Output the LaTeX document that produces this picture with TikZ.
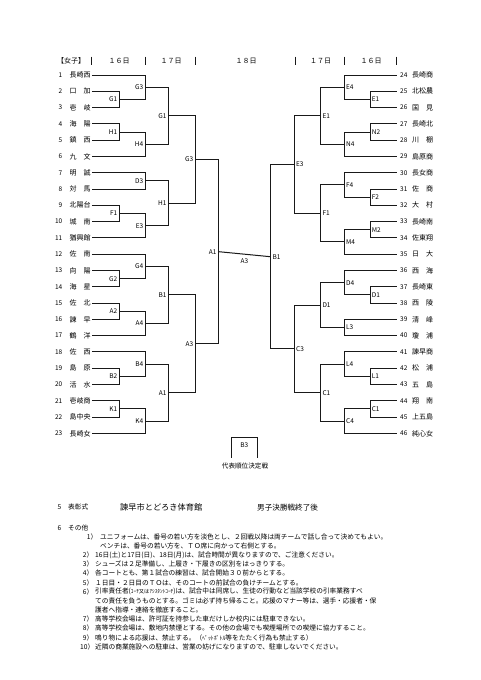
\documentclass[tikz,border=0pt]{standalone}
\usepackage{fontspec}
\setmainfont{Noto Sans CJK JP}
\usetikzlibrary{calc}
\newcommand\fsz[1]{\fontsize{#1}{#1}\selectfont}
\newcommand\lmatch[5]{%
  \draw[bline] (#2) -- (#2 -| #4) -- (#3 -| #4) -- (#3);
  \coordinate (#1) at ($(#2 -| #4)!0.5!(#3 -| #4)$);
  \node[lbl, anchor=east] (#1l) at (#1) {#5};}
\newcommand\rmatch[5]{%
  \draw[bline] (#2) -- (#2 -| #4) -- (#3 -| #4) -- (#3);
  \coordinate (#1) at ($(#2 -| #4)!0.5!(#3 -| #4)$);
  \node[lbl, anchor=west] (#1l) at (#1) {#5};}
\begin{document}
\begin{tikzpicture}[x=1pt,y=-1pt,
  bline/.style={line width=1pt, black!90, line join=miter},
  lbl/.style={font=\fsz{6.5}, inner xsep=1.6pt, inner ysep=0pt},
  tname/.style={font=\fsz{7}, inner sep=0pt, text width=22pt, align=left, anchor=west},
  tnum/.style={font=\fsz{6.5}, inner sep=0pt, anchor=east},
  rnum/.style={font=\fsz{6.5}, inner xsep=3.3pt, inner ysep=0pt, anchor=west},
  rname/.style={font=\fsz{7}, inner sep=0pt, anchor=west},
  hdr/.style={font=\fsz{7}, inner sep=0pt},
  txt/.style={font=\fsz{6.7}, inner sep=0pt, anchor=west}]
\useasboundingbox (0,0) rectangle (481,680);
\fill[white] (0,0) rectangle (481,680);

% columns
\coordinate (L1) at (119,0);
\coordinate (L2) at (145,0);
\coordinate (L3) at (168.3,0);
\coordinate (L4) at (195,0);
\coordinate (LC) at (218.3,0);
\coordinate (R1) at (370,0);
\coordinate (R2) at (344.3,0);
\coordinate (R3) at (320.7,0);
\coordinate (R4) at (294.3,0);
\coordinate (RC) at (270.7,0);

% header
\node[hdr, anchor=west] (hd0) at (57,60.7) {【女子】};
\foreach \x in {91.7,145,195,295,344,396.7}
  \draw[line width=1pt, black!90] (\x,56.5) -- (\x,65);
\node[hdr] (hd1) at (119,60.7) {１６日};
\node[hdr] (hd2) at (171,60.7) {１７日};
\node[hdr] (hd3) at (246,60.7) {１８日};
\node[hdr] (hd4) at (320.5,60.7) {１７日};
\node[hdr] (hd5) at (371,60.7) {１６日};

% left teams
\foreach \i/\n in {1/長崎西,2/口　加,3/壱　岐,4/海　陽,5/鎮　西,6/九　文,7/明　誠,8/対　馬,9/北陽台,10/城　南,11/猶興館,12/佐　南,13/向　陽,14/海　星,15/佐　北,16/諫　早,17/鶴　洋,18/佐　西,19/島　原,20/活　水,21/壱岐商,22/島中央,23/長崎女}{
  \pgfmathsetmacro\yy{75+(\i-1)*16.29}
  \node[tnum] (n\i) at (62.5,\yy) {\i};
  \node[tname] (t\i) at (69.5,\yy) {\n};
}
% right teams
\foreach \i/\n in {24/長崎商,25/北松農,26/国　見,27/長崎北,28/川　棚,29/島原商,30/長女商,31/佐　商,32/大　村,33/長崎南,34/佐東翔,35/日　大,36/西　海,37/長崎東,38/西　陵,39/清　峰,40/瓊　浦,41/諫早商,42/松　浦,43/五　島,44/翔　南,45/上五島,46/純心女}{
  \pgfmathsetmacro\yy{75+(\i-24)*16.29}
  \node[rnum] (t\i) at (396.7,\yy) {\i};
  \node[rname] (nm\i) at (412,\yy) {\n};
}

% left bracket
\lmatch{la1}{t2.east}{t3.east}{L1}{G1}
\lmatch{la2}{t4.east}{t5.east}{L1}{H1}
\lmatch{la3}{t9.east}{t10.east}{L1}{F1}
\lmatch{la4}{t13.east}{t14.east}{L1}{G2}
\lmatch{la5}{t15.east}{t16.east}{L1}{A2}
\lmatch{la6}{t19.east}{t20.east}{L1}{B2}
\lmatch{la7}{t21.east}{t22.east}{L1}{K1}
\lmatch{lb1}{t1.east}{la1}{L2}{G3}
\lmatch{lb2}{la2}{t6.east}{L2}{H4}
\lmatch{lb3}{t7.east}{t8.east}{L2}{D3}
\lmatch{lb4}{la3}{t11.east}{L2}{E3}
\lmatch{lb5}{t12.east}{la4}{L2}{G4}
\lmatch{lb6}{la5}{t17.east}{L2}{A4}
\lmatch{lb7}{t18.east}{la6}{L2}{B4}
\lmatch{lb8}{la7}{t23.east}{L2}{K4}
\lmatch{lc1}{lb1}{lb2}{L3}{G1}
\lmatch{lc2}{lb3}{lb4}{L3}{H1}
\lmatch{lc3}{lb5}{lb6}{L3}{B1}
\lmatch{lc4}{lb7}{lb8}{L3}{A1}
\lmatch{ld1}{lc1}{lc2}{L4}{G3}
\lmatch{ld2}{lc3}{lc4}{L4}{A3}
\lmatch{le}{ld1}{ld2}{LC}{A1}

% right bracket
\rmatch{ra1}{t25.west}{t26.west}{R1}{E1}
\rmatch{ra2}{t27.west}{t28.west}{R1}{N2}
\rmatch{ra3}{t31.west}{t32.west}{R1}{F2}
\rmatch{ra4}{t33.west}{t34.west}{R1}{M2}
\rmatch{ra5}{t37.west}{t38.west}{R1}{D1}
\rmatch{ra6}{t42.west}{t43.west}{R1}{L1}
\rmatch{ra7}{t44.west}{t45.west}{R1}{C1}
\rmatch{rb1}{t24.west}{ra1}{R2}{E4}
\rmatch{rb2}{ra2}{t29.west}{R2}{N4}
\rmatch{rb3}{t30.west}{ra3}{R2}{F4}
\rmatch{rb4}{ra4}{t35.west}{R2}{M4}
\rmatch{rb5}{t36.west}{ra5}{R2}{D4}
\rmatch{rb6}{t39.west}{t40.west}{R2}{L3}
\rmatch{rb7}{t41.west}{ra6}{R2}{L4}
\rmatch{rb8}{ra7}{t46.west}{R2}{C4}
\rmatch{rc1}{rb1}{rb2}{R3}{E1}
\rmatch{rc2}{rb3}{rb4}{R3}{F1}
\rmatch{rc3}{rb5}{rb6}{R3}{D1}
\rmatch{rc4}{rb7}{rb8}{R3}{C1}
\rmatch{rd1}{rc1}{rc2}{R4}{E3}
\rmatch{rd2}{rc3}{rc4}{R4}{C3}
\rmatch{re}{rd1}{rd2}{RC}{B1}

% final
\draw[bline] (le) -- (re);
\node[lbl, below=4pt] (fin) at ($(le)!0.5!(re)$) {A3};

% third place box
\coordinate (b3a) at (231,457.7);
\coordinate (b3b) at (257.3,457.7);
\draw[bline] (b3a) -- (231,437.7) -- (257.3,437.7) -- (b3b);
\node[lbl] (b3) at (244.2,445.5) {B3};
\node[font=\fsz{6.6}, inner sep=0pt] (b3t) at (245,465.7) {代表順位決定戦};

% notes
\node[txt] (s5) at (57.5,507.3) {5};
\node[txt] (s5a) at (68,507.3) {表彰式};
\node[font=\fsz{8.2}, inner sep=0pt, anchor=west] (s5b) at (120,507.3) {諫早市とどろき体育館};
\node[font=\fsz{7.6}, inner sep=0pt, anchor=west] (s5c) at (257,507.3) {男子決勝戦終了後};
\node[txt] (s6) at (57.5,528) {6};
\node[txt] (s6a) at (68,528) {その他};

\node[txt] (i1) at (86.7,536.7) {1）};
\node[txt] (i1a) at (100,536.7) {ユニフォームは、番号の若い方を淡色とし、２回戦以降は両チームで話し合って決めてもよい。};
\node[txt] (i1b) at (100,545.9) {ベンチは、番号の若い方を、ＴＯ席に向かって右側とする。};
\node[txt] (i2) at (82.7,555.0) {2）};
\node[txt] (i2a) at (95,555.0) {16日(土)と17日(日)、18日(月)は、試合時間が異なりますので、ご注意ください。};
\node[txt] (i3) at (82.7,564.2) {3）};
\node[txt] (i3a) at (95,564.2) {シューズは２足準備し、上履き・下履きの区別をはっきりする。};
\node[txt] (i4) at (82.7,573.4) {4）};
\node[txt] (i4a) at (95,573.4) {各コートとも、第１試合の練習は、試合開始３０前からとする。};
\node[txt] (i5) at (82.7,582.6) {5）};
\node[txt] (i5a) at (95,582.6) {１日目・２日目のＴＯは、そのコートの前試合の負けチームとする。};
\node[txt] (i6) at (82.7,591.7) {6）};
\node[txt] (i6a) at (95,591.7) {引率責任者({\fsz{5.3}ｺｰﾁ又はｱｼｽﾀﾝﾄｺｰﾁ})は、試合中は同席し、生徒の行動など当該学校の引率業務すべ};
\node[txt] (i6b) at (95,600.9) {ての責任を負うものとする。ゴミは必ず持ち帰ること。応援のマナー等は、選手・応援者・保};
\node[txt] (i6c) at (95,610.1) {護者へ指導・連絡を徹底すること。};
\node[txt] (i7) at (82.7,619.2) {7）};
\node[txt] (i7a) at (95,619.2) {高等学校会場は、許可証を持参した車だけしか校内には駐車できない。};
\node[txt] (i8) at (82.7,628.4) {8）};
\node[txt] (i8a) at (95,628.4) {高等学校会場は、敷地内禁煙とする。その他の会場でも喫煙場所での喫煙に協力すること。};
\node[txt] (i9) at (82.7,637.6) {9）};
\node[txt] (i9a) at (95,637.6) {鳴り物による応援は、禁止する。（{\fsz{5.8}ﾍﾟｯﾄﾎﾞﾄﾙ}等をたたく行為も禁止する）};
\node[txt] (i10) at (80,646.7) {10）};
\node[txt] (i10a) at (95,646.7) {近隣の商業施設への駐車は、営業の妨げになりますので、駐車しないでください。};
\end{tikzpicture}
\end{document}
